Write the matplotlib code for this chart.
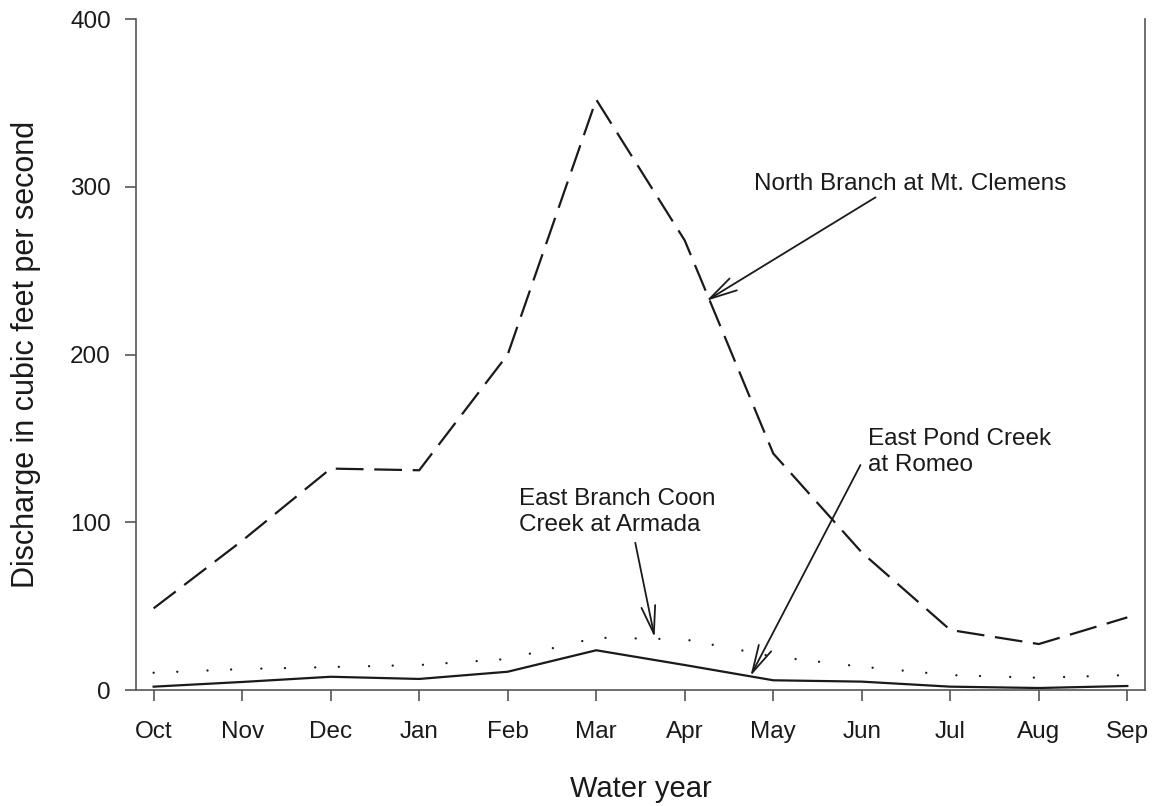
import matplotlib.pyplot as plt

plt.rcParams['font.family'] = ['Liberation Sans', 'DejaVu Sans']

# ===== data (cfs, mean monthly discharge) =====
months = ["Oct", "Nov", "Dec", "Jan", "Feb", "Mar", "Apr", "May", "Jun", "Jul", "Aug", "Sep"]
north_branch = [48.7, 89, 132, 131, 200, 352, 268, 141, 82, 35.8, 27.4, 43.3]
east_branch_coon = [10.3, 12.5, 13.7, 14.9, 18.5, 31.2, 30.2, 20, 13.9, 8.9, 7.3, 8.9]
east_pond = [2.0, 4.8, 7.9, 6.6, 10.9, 23.7, 14.9, 5.8, 5.0, 2.0, 1.2, 2.4]

x = list(range(len(months)))
ink = "#1a1a1a"
axis_col = "#555555"

fig = plt.figure(figsize=(11.56, 8.06), dpi=100)
ax = fig.add_axes([0.1176, 0.1439, 0.8729, 0.8325])

ax.plot(x, north_branch, color=ink, lw=1.6, dashes=(12.5, 4.8))
ax.plot(x, east_branch_coon, color=ink, lw=1.7, dashes=(0.01, 10, 0.01, 12.8),
        dash_capstyle="round")
ax.plot(x, east_pond, color=ink, lw=1.6)

ax.set_xlim(-0.2, 11.2)
ax.set_ylim(0, 400)
ax.set_xticks(x)
ax.set_xticklabels(months)
ax.set_yticks([0, 100, 200, 300, 400])

ax.spines["top"].set_visible(False)
for s in ["left", "bottom", "right"]:
    ax.spines[s].set_color(axis_col)
    ax.spines[s].set_linewidth(1.2)
ax.tick_params(axis="both", direction="out", length=8, width=1.2, color=axis_col,
               labelsize=17.5, labelcolor=ink)
ax.tick_params(axis="x", pad=14)
ax.tick_params(axis="y", pad=10)

ax.set_xlabel("Water year", fontsize=21, color=ink, labelpad=23)
ax.set_ylabel("Discharge in cubic feet per second", fontsize=22, color=ink, labelpad=21)

# ===== annotations with open arrowheads =====
arrow = dict(arrowstyle="->,head_length=1.0,head_width=0.25", color=ink, lw=1.3,
             mutation_scale=20, shrinkA=0, shrinkB=0)

ax.text(8.55, 301.6, "North Branch at Mt. Clemens", fontsize=17.5, color=ink,
        ha="center", va="center")
ax.annotate("", xy=(6.244, 232), xytext=(8.155, 293.7), arrowprops=arrow)

ax.text(8.076, 141.9, "East Pond Creek\nat Romeo", fontsize=17.5, color=ink,
        ha="left", va="center", linespacing=1.2)
ax.annotate("", xy=(6.742, 8.3), xytext=(7.985, 134.1), arrowprops=arrow)

ax.text(4.13, 106.1, "East Branch Coon\nCreek at Armada", fontsize=17.5, color=ink,
        ha="left", va="center", linespacing=1.2)
ax.annotate("", xy=(5.66, 31.4), xytext=(5.441, 87.8), arrowprops=arrow)

fig.savefig("out.png", dpi=100)
